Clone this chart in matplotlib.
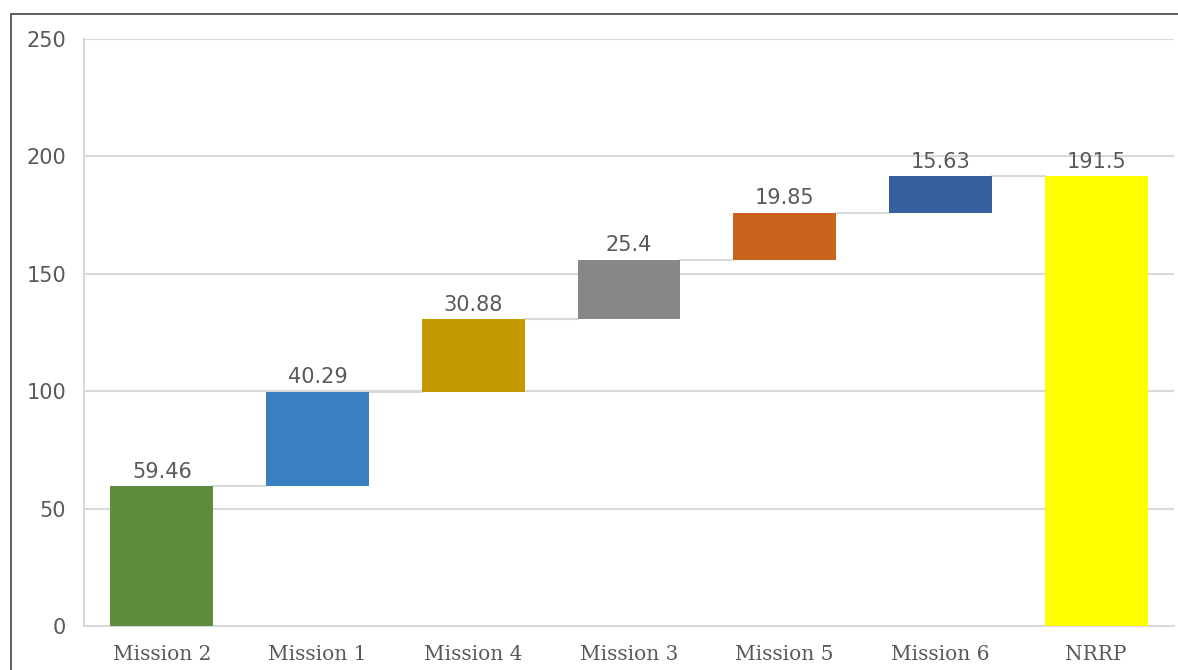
import numpy as np
import matplotlib
matplotlib.use("Agg")
import matplotlib.pyplot as plt
from matplotlib.patches import Rectangle

# data
cats = ["Mission 2", "Mission 1", "Mission 4", "Mission 3", "Mission 5", "Mission 6", "NRRP"]
steps = [59.46, 40.29, 30.88, 25.4, 19.85, 15.63]
total = 191.5
labels = ["59.46", "40.29", "30.88", "25.4", "19.85", "15.63", "191.5"]
colors = ["#5F8B3D", "#3A7FBF", "#C59A00", "#878787", "#C9621A", "#375E9F", "#FFFF00"]

grey = "#595959"
fig = plt.figure(figsize=(11.78, 6.7), dpi=100)
ax = fig.add_axes([84/1178, 44/670, 1090/1178, 587/670])

x = np.arange(len(cats))
bottoms = np.concatenate([[0], np.cumsum(steps)[:-1], [0]])
heights = np.array(steps + [total])
ax.bar(x, heights, bottom=bottoms, width=0.66, color=colors, zorder=3)

# connectors
tops = bottoms + heights
for i in range(len(cats) - 1):
    ax.plot([x[i] + 0.33, x[i + 1] - 0.33], [tops[i], tops[i]], color="#d9d9d9", lw=1.5, zorder=2)

for xi, t, lab in zip(x, tops, labels):
    ax.text(xi, t + 2, lab, ha="center", va="bottom", fontsize=15, color=grey, family="DejaVu Sans")

ax.set_ylim(0, 250)
ax.set_xlim(-0.5, len(cats) - 0.5)
ax.set_yticks(range(0, 251, 50))
ax.set_xticks(x)
ax.set_xticklabels(cats, family="DejaVu Serif", fontsize=14.5, color=grey)
ax.tick_params(axis="y", labelsize=15, labelcolor=grey, length=0, pad=13)
ax.tick_params(axis="x", length=0, pad=14)
ax.grid(axis="y", color="#d9d9d9", lw=1.5, zorder=0)
for s in ["top", "right"]:
    ax.spines[s].set_visible(False)
for s in ["left", "bottom"]:
    ax.spines[s].set_color("#d9d9d9")
    ax.spines[s].set_linewidth(1.5)

# outer chart frame (cropped at right and bottom)
fig.patches.append(Rectangle((11/1178, -0.1), 1.2, (670 - 14)/670 + 0.1,
                             transform=fig.transFigure, fill=False, ec="#444444", lw=1.2))

fig.savefig("out.png", dpi=100)
